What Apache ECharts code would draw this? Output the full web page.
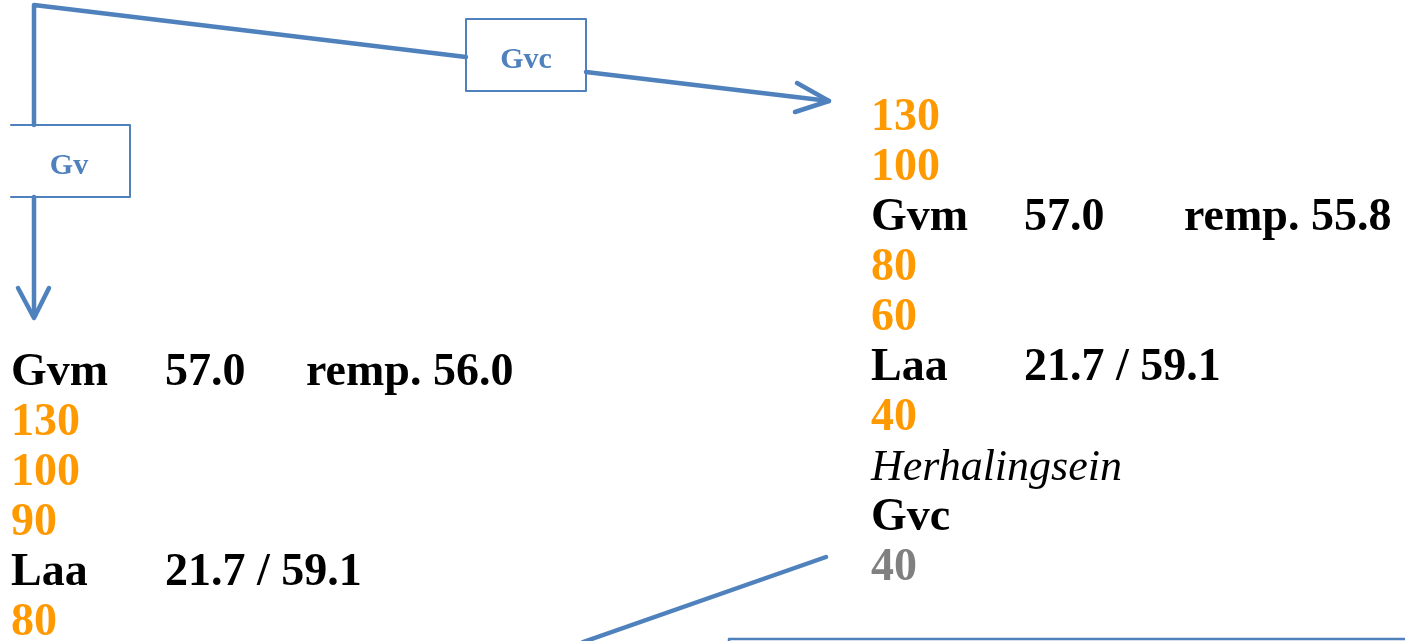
<!DOCTYPE html>
<html>
<head>
<meta charset="utf-8">
<title>Gv / Gvc</title>
<script src="https://cdn.jsdelivr.net/npm/echarts@6/dist/echarts.min.js"></script>
<style>
  html, body { margin: 0; padding: 0; background: #fff; }
  #main { width: 1405px; height: 641px; }
</style>
</head>
<body>
<div id="main"></div>
<script>
// text rows, read top to bottom
const leftRows = [['Gvm', '57.0', 'remp. 56.0'], ['130'], ['100'], ['90'], ['Laa', '21.7 / 59.1'], ['80']]
const leftTones = ['label', 'limit', 'limit', 'limit', 'label', 'limit']
const rightRows = [['130'], ['100'], ['Gvm', '57.0', 'remp. 55.8'], ['80'], ['60'], ['Laa', '21.7 / 59.1'], ['40'], ['Herhalingsein'], ['Gvc'], ['40']]
const rightTones = ['limit', 'limit', 'label', 'limit', 'limit', 'label', 'limit', 'note', 'label', 'end']

// box captions
const boxNames = ['Gvc', 'Gv']
const boxCenters = [[526, 60], [69, 166]]

// connector paths (diagram units = page pixels)
const topPath = [[34, 125], [34, 5], [466, 57]]
const gvcOut = [[586, 72], [829, 101]]
const gvcHead = [[797, 83], [829, 101], [795, 112]]
const gvDown = [[34, 197], [34, 316]]
const gvHead = [[18, 288], [34, 318], [49, 288]]
const bottomLink = [[826, 557], [583, 642]]
// box outlines
const gvcBox = [[466, 19], [586, 19], [586, 91], [466, 91], [466, 19]]
const gvBox = [[11, 125], [130, 125], [130, 197], [11, 197]]
const bottomBox = [[729, 660], [729, 639], [1410, 639]]

const blue = '#4F81BD'
const toneColor = { label: '#000', note: '#000', limit: '#FF9900', end: '#808080' }
const fontSize = 46
const lineStep = 50

// turn rows into text points
function rowPoints (rows, tones, cols, firstBaseline) {
  const pts = []
  rows.forEach((row, i) => {
    row.forEach((txt, j) => {
      pts.push({
        value: [cols[j], firstBaseline + i * lineStep - 9],
        name: txt,
        label: {
          color: toneColor[tones[i]],
          fontStyle: tones[i] === 'note' ? 'italic' : 'normal',
          fontWeight: tones[i] === 'note' ? 'normal' : 'bold',
          fontSize: tones[i] === 'note' ? 44 : fontSize
        }
      })
    })
  })
  return pts
}

function path (data, width) {
  return {
    type: 'line',
    data: data,
    symbol: 'none',
    silent: true,
    lineStyle: { color: blue, width: width, cap: 'round', join: 'round' }
  }
}

const chart = echarts.init(document.getElementById('main'))
const option = {
  animation: false,
  grid: { left: 0, right: 0, top: 0, bottom: 0 },
  xAxis: { type: 'value', min: 0, max: 1405, show: false },
  yAxis: { type: 'value', min: 0, max: 641, inverse: true, show: false },
  series: [
    path(topPath, 4.5),
    path(gvcOut, 4.5),
    path(gvcHead, 4.5),
    path(gvDown, 4.5),
    path(gvHead, 4.5),
    path(bottomLink, 4.5),
    path(gvcBox, 2),
    path(gvBox, 2),
    path(bottomBox, 2.5),
    {
      // caption inside the boxes
      type: 'scatter',
      symbolSize: 0,
      silent: true,
      itemStyle: { opacity: 1 },
      data: boxNames.map((n, i) => ({ value: boxCenters[i], name: n })),
      label: {
        show: true,
        position: 'inside',
        formatter: '{b}',
        color: blue,
        opacity: 1,
        fontFamily: 'Liberation Serif',
        fontWeight: 'bold',
        fontSize: 30
      }
    },
    {
      type: 'scatter',
      symbolSize: 0,
      silent: true,
      itemStyle: { opacity: 1 },
      data: rowPoints(leftRows, leftTones, [11, 165, 306], 382)
        .concat(rowPoints(rightRows, rightTones, [871, 1024, 1184], 127)),
      label: {
        show: true,
        position: [0, 0],
        align: 'left',
        verticalAlign: 'middle',
        opacity: 1,
        formatter: '{b}',
        fontFamily: 'Liberation Serif'
      }
    }
  ]
}
chart.setOption(option)
</script>
</body>
</html>
